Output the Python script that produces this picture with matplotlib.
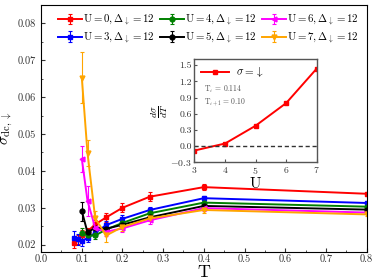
import matplotlib
matplotlib.use('Agg')
import matplotlib.pyplot as plt
import numpy as np

plt.rcParams['font.family'] = ['cmr10', 'DejaVu Serif']
plt.rcParams['mathtext.fontset'] = 'cm'
plt.rcParams['axes.formatter.use_mathtext'] = True

# temperatures
T_all = [0.08, 0.0909, 0.1, 0.114, 0.133, 0.16, 0.2, 0.267, 0.4, 0.8]
T_hi = [0.1, 0.114, 0.133, 0.16, 0.2, 0.267, 0.4, 0.8]

# sigma_dc,down for each U
sig_u0 = [0.0205, 0.0215, 0.0227, 0.0236, 0.0255, 0.0274, 0.0300, 0.0330, 0.0356, 0.0338]
err_u0 = [0.0015, 0.0012, 0.0012, 0.0010, 0.0012, 0.0012, 0.0012, 0.0012, 0.0008, 0.0006]
sig_u3 = [0.0219, 0.0215, 0.0210, 0.0218, 0.0232, 0.0253, 0.0270, 0.0294, 0.0326, 0.0313]
err_u3 = [0.0018, 0.0015, 0.0015, 0.0010, 0.0012, 0.0010, 0.0010, 0.0008, 0.0006, 0.0005]
sig_u4 = [0.0231, 0.0225, 0.0225, 0.0241, 0.0259, 0.0285, 0.0314, 0.0303]
err_u4 = [0.0015, 0.0010, 0.0010, 0.0008, 0.0008, 0.0008, 0.0006, 0.0005]
sig_u5 = [0.0291, 0.0233, 0.0246, 0.0243, 0.0254, 0.0274, 0.0305, 0.0295]
err_u5 = [0.0026, 0.0010, 0.0010, 0.0010, 0.0008, 0.0008, 0.0006, 0.0005]
sig_u6 = [0.0433, 0.0319, 0.0245, 0.0235, 0.0244, 0.0266, 0.0299, 0.0287]
err_u6 = [0.0035, 0.0040, 0.0015, 0.0012, 0.0010, 0.0010, 0.0008, 0.0005]
sig_u7 = [0.0653, 0.0448, 0.0271, 0.0225, 0.0248, 0.0271, 0.0294, 0.0282]
err_u7 = [0.0070, 0.0035, 0.0020, 0.0018, 0.0010, 0.0008, 0.0008, 0.0005]

# inset: d sigma / dT vs U
U_inset = [3, 4, 5, 6, 7]
dsig_dT = [-0.08, 0.05, 0.38, 0.80, 1.44]

series = [
    (T_all, sig_u0, err_u0, 'red', 's', r'$\mathrm{U}=0,\Delta_{\downarrow}=12$'),
    (T_all, sig_u3, err_u3, 'blue', 's', r'$\mathrm{U}=3,\Delta_{\downarrow}=12$'),
    (T_hi, sig_u4, err_u4, 'green', 'o', r'$\mathrm{U}=4,\Delta_{\downarrow}=12$'),
    (T_hi, sig_u5, err_u5, 'black', 'o', r'$\mathrm{U}=5,\Delta_{\downarrow}=12$'),
    (T_hi, sig_u6, err_u6, 'magenta', '<', r'$\mathrm{U}=6,\Delta_{\downarrow}=12$'),
    (T_hi, sig_u7, err_u7, 'orange', 'v', r'$\mathrm{U}=7,\Delta_{\downarrow}=12$'),
]

fig = plt.figure(figsize=(3.74, 2.8), dpi=100)
ax = fig.add_axes([0.11, 0.1, 0.87, 0.882])

for t, s, e, c, m, lab in series:
    ax.errorbar(t, s, yerr=e, color=c, marker=m, markersize=3.5, lw=1.4,
                elinewidth=0.8, capsize=1.5, capthick=0.8, ecolor=c,
                label=lab)

xt = [0.0, 0.1, 0.2, 0.3, 0.4, 0.5, 0.6, 0.7, 0.8]
yt = [0.02, 0.03, 0.04, 0.05, 0.06, 0.07, 0.08]
ax.set_xlim(0, 0.8)
ax.set_ylim(0.018, 0.085)
ax.set_xticks(xt)
ax.set_xticks(np.arange(0.05, 0.8, 0.1), minor=True)
ax.set_yticks(yt)
ax.set_yticks(np.arange(0.025, 0.085, 0.01), minor=True)
ax.set_xticklabels([f'{v:.1f}' for v in xt])
ax.set_yticklabels([f'{v:.2f}' for v in yt])
ax.tick_params(which='both', direction='in', labelsize=7.5, color='#333333',
               labelcolor='#333333')
ax.tick_params(axis='x', pad=2)
ax.tick_params(which='major', length=3)
ax.tick_params(which='minor', length=1.5)
ax.set_xlabel(r'$\mathrm{T}$', fontsize=13, labelpad=0)
ax.set_ylabel(r'$\sigma_{\mathrm{dc},\downarrow}$', fontsize=11, labelpad=2)

ax.legend(ncol=3, loc='upper right', bbox_to_anchor=(1.0, 1.0), frameon=False,
          fontsize=7.8, handlelength=2.2, handletextpad=0.1, columnspacing=0.5,
          labelspacing=0.2, borderaxespad=0.3)

# inset
axin = fig.add_axes([0.52, 0.42, 0.327, 0.37])
axin.plot(U_inset, dsig_dT, color='red', marker='s', markersize=3.5, lw=1.4,
          label=r'$\sigma=\downarrow$')
axin.axhline(0, color='#333333', lw=1.0, ls=(0, (3, 2)))
axin.set_xlim(3, 7)
axin.set_ylim(-0.3, 1.62)
axin.set_xticks([3, 4, 5, 6, 7])
axin.set_yticks([-0.3, 0.0, 0.3, 0.6, 0.9, 1.2, 1.5])
axin.set_yticklabels([r'$-0.3$', '0.0', '0.3', '0.6', '0.9', '1.2', '1.5'])
axin.tick_params(direction='in', labelsize=7, length=2.5, color='#555555',
                 labelcolor='#333333', pad=2)
for sp in axin.spines.values():
    sp.set_linewidth(1.0)
    sp.set_color('#555555')
axin.set_xlabel(r'$\mathrm{U}$', fontsize=11, labelpad=0)
axin.set_ylabel(r'$\frac{d\sigma}{dT}$', fontsize=10, labelpad=0)
axin.legend(loc='upper left', frameon=False, fontsize=8, handlelength=2.5,
            handletextpad=0.6, borderaxespad=0.2)
axin.text(0.08, 0.68, r'$\mathrm{T}_i\,=\,0.114$', transform=axin.transAxes,
          fontsize=5.5, color='#555555')
axin.text(0.08, 0.56, r'$\mathrm{T}_{i+1}=\,0.10$', transform=axin.transAxes,
          fontsize=5.5, color='#555555')

fig.savefig('out.png', dpi=100)
